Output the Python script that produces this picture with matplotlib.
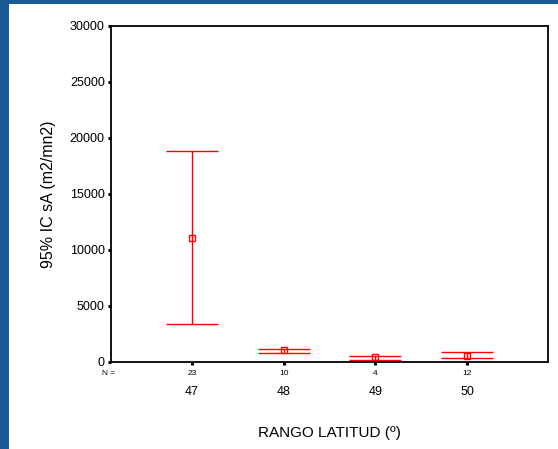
import numpy as np
import matplotlib.pyplot as plt
from matplotlib.patches import Rectangle

plt.rcParams['font.family'] = ['Liberation Sans', 'DejaVu Sans']

rangos = ['47', '48', '49', '50']
n_casos = ['23', '10', '4', '12']
media = [11070, 1050, 470, 560]
ic_sup = [18840, 1160, 560, 870]
ic_inf = [3390, 800, 200, 330]

fig = plt.figure(figsize=(5.58, 4.49), dpi=100)
fig.patch.set_facecolor('#1c5a97')
fig.patches.append(Rectangle((9 / 558, 0), 1, 1 - 4 / 449, transform=fig.transFigure,
                             facecolor='white', edgecolor='none', zorder=-10))

ax = fig.add_axes([111 / 558, 1 - 362 / 449, 437 / 558, 336 / 449])
x = np.arange(1, len(rangos) + 1)
media = np.array(media)
err = [media - np.array(ic_inf), np.array(ic_sup) - media]
ax.errorbar(x, media, yerr=err, fmt='s', color='#ff0000', mfc='none', mec='#ff0000',
            ms=5, mew=1, elinewidth=1, capsize=18.7, capthick=1)

ax.set_xlim(0.12, 4.88)
ax.set_ylim(0, 30000)
ax.set_yticks(np.arange(0, 30001, 5000))
ax.set_xticks(x)
ax.set_xticklabels(rangos, fontsize=9)
ax.tick_params(axis='x', length=2.5, width=2.2, pad=15, color='black')
ax.tick_params(axis='y', length=2.5, width=2.2, pad=2, labelsize=9, color='black')
for s in ax.spines.values():
    s.set_linewidth(1.3)
    s.set_color('black')

trans = ax.get_xaxis_transform()
ax.text(-0.02, -0.033, 'N =', fontsize=6, transform=ax.transAxes, ha='left', va='center')
for xi, n in zip(x, n_casos):
    ax.text(xi, -0.033, n, fontsize=6, transform=trans, ha='center', va='center')

ax.set_xlabel('RANGO LATITUD (º)', fontsize=11)
ax.xaxis.set_label_coords(0.5, -0.19)
ax.set_ylabel('95% IC sA (m2/mn2)', fontsize=11.5)
ax.yaxis.set_label_coords(-0.125, 0.5)

fig.savefig('out.png', dpi=100, facecolor=fig.get_facecolor())
